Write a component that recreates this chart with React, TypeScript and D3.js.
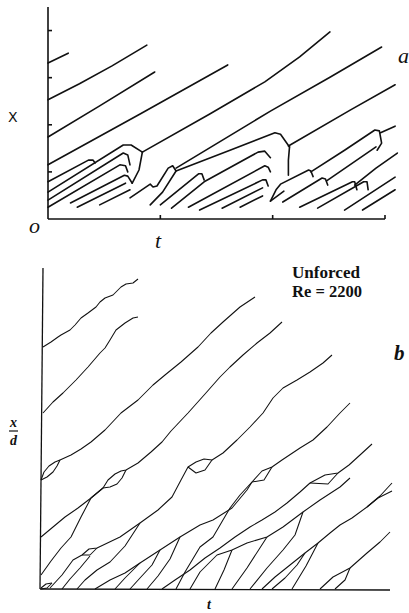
import React from 'react';
import * as d3 from 'd3';

type Pt = [number, number];

// ---------- panel a (t and x in tenths of a tick interval) ----------
const aTimeTicks = [10, 20, 30];
const aPosTicks = [10, 20, 30, 40];

const aLongPaths: Pt[][] = [
  [[0, 33.1], [1.8, 35.2]],
  [[0, 25.3], [2.8, 28.7], [5.7, 32.5], [8.8, 36.9]],
  [[0, 17.4], [4.6, 24.0], [9.5, 31.2]],
  [[0, 11.5], [8.2, 22.3], [16.0, 32.7]],
  [[8.4, 14.2], [14.4, 22.3], [19.3, 29.1], [22.4, 34.4], [25.1, 39.7]],
  [[11.4, 10.8], [19.8, 22.9], [25.1, 30.1], [29.7, 36.5]],
  [[21.4, 15.5], [26.9, 23.1], [30.9, 28.5]],
];

const aCluster1: Pt[][] = [
  [[0, 7.9], [3.6, 12.5], [4.0, 12.5], [4.2, 11.9]],
  [[0, 5.7], [6.7, 15.7], [7.4, 15.7], [8.4, 14.2]],
  [[0, 4.0], [6.7, 14.0], [7.1, 13.6], [7.3, 11.5]],
  [[0, 2.5], [6.4, 11.5], [6.9, 11.3], [7.1, 10.0]],
  [[2.0, 3.4], [6.8, 9.3], [7.1, 9.1], [7.5, 7.6]],
  [[2.6, 2.5], [6.9, 7.6]],
  [[4.6, 3.0], [7.3, 6.2]],
  [[8.4, 14.2], [8.1, 10.4], [7.5, 7.6]],
];

const aCluster2: Pt[][] = [
  [[7.3, 4.5], [9.1, 7.4], [9.35, 6.8], [9.7, 7.0], [10.7, 10.8], [11.1, 11.3], [11.4, 10.2]],
  [[9.1, 3.0], [10.2, 5.7], [11.4, 10.2], [16.2, 14.6], [20.2, 18.3], [20.7, 18.0], [21.5, 15.3]],
  [[10.0, 3.0], [13.4, 9.6], [13.7, 9.6], [13.9, 8.3]],
  [[11.0, 2.3], [13.9, 7.9], [18.7, 14.2], [19.3, 14.4], [19.8, 13.0]],
  [[12.5, 2.5], [19.3, 11.3], [19.6, 11.0], [19.8, 10.0]],
  [[13.5, 1.9], [19.1, 8.3], [19.4, 8.3], [19.6, 7.0]],
  [[15.5, 2.3], [19.1, 6.6]],
  [[17.1, 2.5], [19.1, 4.9]],
  [[21.5, 15.3], [21.4, 12.5], [21.4, 9.3]],
];

const aCluster3: Pt[][] = [
  [[19.8, 3.8], [20.3, 6.2], [20.7, 7.4], [23.2, 10.4], [23.4, 10.2], [23.6, 9.0]],
  [[19.8, 3.8], [21.0, 5.9]],
  [[23.4, 10.0], [26.4, 14.6], [29.1, 18.9], [29.5, 18.7], [29.7, 16.1], [29.3, 14.6]],
  [[29.6, 18.3], [30.9, 19.7]],
  [[20.9, 3.6], [24.4, 8.7], [24.7, 8.5], [24.9, 7.2]],
  [[24.8, 8.1], [29.2, 15.3]],
  [[22.4, 2.5], [27.1, 7.9], [27.3, 7.9], [27.5, 6.2]],
  [[27.3, 7.2], [29.2, 10.8], [31.1, 14.0]],
  [[24.0, 2.3], [28.1, 7.9], [28.4, 7.9], [28.5, 6.2]],
  [[26.4, 1.9], [30.9, 8.9]],
  [[28.0, 1.9], [30.9, 6.2]],
];

// ---------- panel b (t and x/d in arbitrary units) ----------
const bLongPaths: Pt[][] = [
  [[0.2, 24.2], [1.0, 24.7], [1.7, 25.2], [2.0, 25.4], [2.9, 25.9], [3.4, 26.4], [4.0, 27.1], [4.7, 27.6], [5.5, 28.2], [5.9, 28.7], [6.4, 29.1], [7.2, 29.4], [8.0, 30.2], [8.5, 30.5], [9.2, 30.6], [9.7, 31.0]],
  [[0.2, 17.6], [1.2, 18.7], [2.2, 19.6], [3.0, 20.4], [3.5, 20.9], [4.7, 22.2], [5.9, 23.6], [6.4, 24.1], [6.9, 24.9], [7.5, 25.9], [8.4, 26.6], [9.2, 27.1], [9.7, 27.2]],
  [[1.9, 12.9], [3.0, 13.4], [4.0, 14.0], [5.0, 14.7], [6.4, 15.9], [8.0, 17.6], [9.7, 18.9], [11.2, 20.4], [12.4, 21.4], [14.0, 22.7], [15.7, 24.2], [17.0, 25.6], [18.2, 26.7], [19.9, 28.2], [21.4, 29.2]],
  [[0, 5.2], [1.2, 6.2], [2.4, 7.2], [3.7, 8.1], [5.0, 9.1], [6.2, 10.1], [6.7, 10.9], [7.4, 11.5], [8.0, 11.8], [8.5, 11.9], [9.7, 12.6], [11.0, 13.7], [12.1, 14.7], [13.0, 15.8], [14.7, 17.6], [16.4, 19.5], [17.9, 21.2], [18.9, 22.2], [20.2, 23.4], [21.6, 24.6], [22.9, 25.6], [24.1, 26.7]],
  [[0, 1.4], [1.0, 2.8], [2.0, 4.1], [3.0, 5.2], [4.0, 7.2], [5.0, 9.1], [6.2, 10.1], [6.9, 10.2], [7.6, 10.5], [8.1, 11.1], [8.5, 11.9]],
  [[29.1, 23.4], [28.2, 22.6], [26.9, 21.7], [25.6, 20.9], [24.2, 20.1], [23.2, 19.1], [22.2, 17.6], [20.9, 16.2], [19.6, 14.9], [18.2, 13.6], [17.1, 12.9], [16.3, 13.0], [15.5, 12.7], [14.7, 12.2], [14.0, 10.9], [13.1, 9.2], [11.7, 7.9], [9.9, 6.6], [7.9, 5.2], [5.6, 4.1], [4.8, 4.0], [4.1, 3.4], [3.2, 2.9], [2.1, 1.4], [0.9, 0.1]],
  [[30.9, 18.6], [29.9, 17.6], [28.6, 16.2], [27.2, 14.9], [25.9, 14.1], [24.1, 12.9], [23.1, 12.2], [22.1, 11.8], [21.1, 10.7], [20.6, 9.9], [19.1, 8.1], [17.2, 6.9], [15.9, 6.4], [13.9, 5.2], [11.9, 3.9], [9.9, 2.6], [8.4, 1.6], [6.9, 0.9], [5.4, 0]],
  [[13.5, 0], [14.4, 1.7], [15.9, 4.2], [17.2, 5.2], [18.9, 8.1], [19.9, 9.4], [21.1, 10.7]],
  [[33.1, 14.5], [31.9, 13.4], [30.8, 12.4], [29.7, 11.6], [28.4, 11.4], [26.9, 10.6], [25.9, 9.7], [24.6, 8.6], [23.4, 7.7], [22.1, 6.9], [20.9, 6.2], [19.4, 5.2], [17.9, 4.1], [16.4, 3.1], [14.9, 1.9], [13.4, 0.9], [12.1, 0]],
  [[14.9, 0], [15.9, 1.7], [17.6, 3.4], [19.1, 3.9], [20.6, 4.6], [22.6, 5.2], [24.2, 6.2], [26.2, 7.7], [27.9, 8.9], [29.9, 10.2], [30.9, 11.1]],
  [[35.1, 10.6], [33.9, 9.3], [32.6, 8.2], [31.1, 7.1], [29.9, 6.4], [28.9, 5.6], [27.7, 4.6], [26.4, 3.6], [24.9, 2.4], [23.4, 1.2], [22.1, 0]],
  [[35.1, 9.8], [33.7, 9.1], [32.6, 8.2]],
  [[27.9, 0], [29.2, 1.2], [30.9, 2.1], [32.6, 3.6], [33.9, 4.7], [34.9, 5.7]],
  [[29.4, 0], [30.4, 0.9], [30.9, 2.1]],
];

// second branch of each pairing lens
const bLensBranches: Pt[][] = [
  [[0, 10.9], [0.3, 11.7], [0.8, 12.3], [1.4, 12.7], [1.9, 12.9]],
  [[0, 10.9], [0.6, 11.2], [1.2, 11.7], [1.6, 12.3], [1.9, 12.9]],
  [[17.1, 12.9], [16.4, 11.9], [15.5, 11.6], [14.7, 12.2]],
  [[5.6, 4.1], [4.9, 3.4], [4.1, 3.4]],
  [[23.1, 12.2], [22.3, 10.9], [21.1, 10.7]],
  [[29.7, 11.6], [28.7, 10.5], [26.9, 10.6]],
  [[0, 0.1], [0.5, 0.5], [1.1, 0.6]],
  [[0, 0], [0.6, 0.1], [1.1, 0.6]],
];

// short steep paths rising from the t axis and joining a longer path
const bShortPaths: Pt[][] = [
  [[2.1, 0], [2.9, 1.0], [3.9, 2.1], [4.9, 3.3]],
  [[3.6, 0], [4.4, 0.9], [5.6, 1.9], [6.9, 2.7], [8.4, 4.3], [9.9, 6.6]],
  [[7.4, 0], [8.4, 1.1], [9.9, 2.6]],
  [[8.9, 0], [9.9, 1.1], [11.1, 2.4], [11.9, 3.9]],
  [[10.6, 0], [11.7, 1.3], [12.9, 3.0], [13.9, 5.2]],
  [[17.4, 0], [18.3, 1.9], [19.1, 3.9]],
  [[19.1, 0], [20.6, 2.1], [22.6, 5.2]],
  [[20.9, 0], [22.6, 2.1], [24.2, 3.9], [25.4, 5.4], [26.2, 7.7]],
  [[23.1, 0], [24.4, 1.1], [25.6, 2.4], [26.4, 3.6]],
  [[25.1, 0], [26.5, 2.3], [27.7, 4.6]],
];

export default function App() {
  const xa = d3.scaleLinear().domain([0, 30]).range([48, 385]);
  const ya = d3.scaleLinear().domain([0, 45]).range([219, 7]);
  const la = d3.line<Pt>().x(d => xa(d[0])).y(d => ya(d[1]));

  const xb = d3.scaleLinear().domain([0, 35]).range([41, 391]);
  const yb = d3.scaleLinear().domain([0, 32.1]).range([589, 268]);
  const lb = d3.line<Pt>().x(d => xb(d[0])).y(d => yb(d[1]));

  const aPaths = [...aLongPaths, ...aCluster1, ...aCluster2, ...aCluster3];
  const bPaths = [...bLongPaths, ...bLensBranches, ...bShortPaths];

  return (
    <svg width={409} height={613} style={{ position: 'absolute', left: 0, top: 0, background: '#fff' }}>
      {/* panel a axes */}
      <g stroke="#111" strokeWidth={1.6} fill="none">
        <line x1={xa(0)} y1={ya(45)} x2={xa(0)} y2={ya(0)} />
        <line x1={xa(0)} y1={ya(0)} x2={xa(30)} y2={ya(0)} />
        {aTimeTicks.map(t => (
          <line key={t} x1={xa(t)} y1={ya(0)} x2={xa(t)} y2={ya(0) - 4} />
        ))}
        {aPosTicks.map(x => (
          <line key={x} x1={xa(0)} y1={ya(x)} x2={xa(0) + 4} y2={ya(x)} />
        ))}
      </g>
      <g stroke="#111" strokeWidth={1.6} fill="none" strokeLinejoin="round" strokeLinecap="round">
        {aPaths.map((p, i) => <path key={i} d={la(p) ?? ''} />)}
      </g>
      <g fill="#111" fontFamily="'Liberation Serif', serif">
        <text x={8} y={122} fontFamily="'DejaVu Sans', sans-serif" fontSize={14}>X</text>
        <text x={29} y={233} fontSize={22} fontStyle="italic">o</text>
        <text x={155} y={248} fontSize={22} fontStyle="italic">t</text>
        <text x={398} y={63} fontSize={22} fontStyle="italic">a</text>
      </g>

      {/* panel b axes */}
      <g stroke="#111" strokeWidth={1.3} fill="none">
        <line x1={xb(0) + 2} y1={yb(32.1)} x2={xb(0) - 1} y2={yb(0)} />
        <line x1={xb(0) - 1} y1={yb(0)} x2={xb(34.9)} y2={yb(0) + 1} />
      </g>
      <g stroke="#111" strokeWidth={1.05} fill="none" strokeLinejoin="round">
        {bPaths.map((p, i) => <path key={i} d={lb(p) ?? ''} />)}
      </g>
      <g fill="#111" fontFamily="'Liberation Serif', 'DejaVu Serif', serif" fontWeight="bold">
        <text x={292} y={278} fontSize={16} textLength={68} lengthAdjust="spacingAndGlyphs">Unforced</text>
        <text x={292} y={297} fontSize={16} textLength={70} lengthAdjust="spacingAndGlyphs">Re = 2200</text>
        <text x={394} y={360} fontSize={21} fontStyle="italic">b</text>
        <text x={13.5} y={427} fontSize={14} fontStyle="italic" textAnchor="middle">x</text>
        <text x={13.5} y={445} fontSize={14} fontStyle="italic" textAnchor="middle">d</text>
        <text x={207} y={609} fontSize={14} fontStyle="italic">t</text>
      </g>
      <line x1={9} y1={431} x2={18} y2={431} stroke="#111" strokeWidth={1.2} />
    </svg>
  );
}
